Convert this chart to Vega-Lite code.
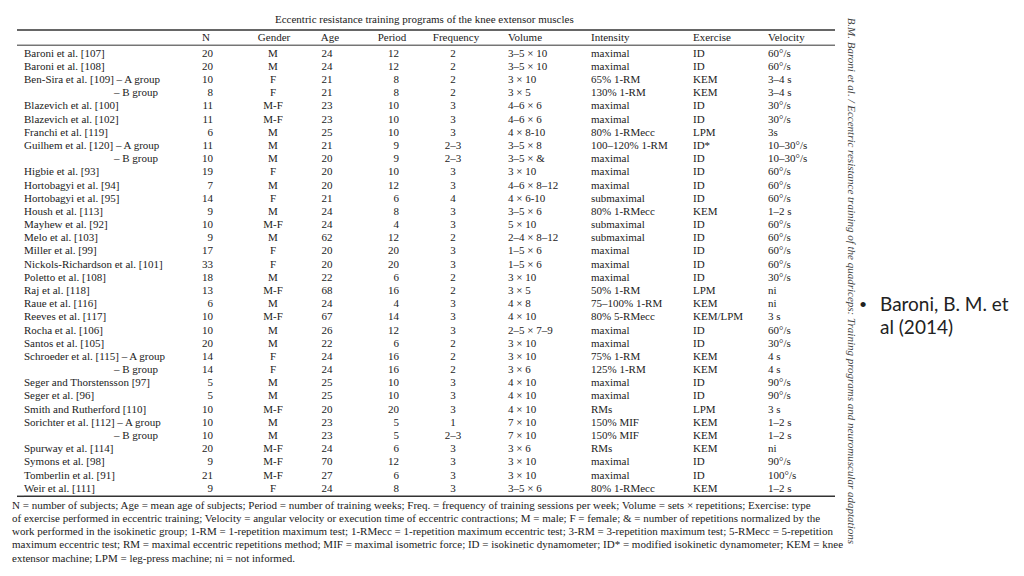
{
  "$schema": "https://vega.github.io/schema/vega-lite/v6.json",
  "background": "white",
  "padding": {"left": 12, "top": 13, "right": 0, "bottom": 0},
  "config": {
    "view": {"stroke": null},
    "text": {"font": "Liberation Serif", "fontSize": 11, "color": "#222", "baseline": "middle"}
  },
  "title": {"text": "Eccentric resistance training programs of the knee extensor muscles", "font": "Liberation Serif", "fontSize": 11, "fontWeight": "normal", "color": "#222", "anchor": "start", "frame": "group", "dx": 258, "offset": -7},
  "datasets": {
    "rows": [
      {"row": 1, "study": "Baroni et al. [107]", "n": 20, "gender": "M", "age": 24, "period": 12, "freq": "2", "volume": "3–5 × 10", "intensity": "maximal", "exercise": "ID", "velocity": "60°/s"},
      {"row": 2, "study": "Baroni et al. [108]", "n": 20, "gender": "M", "age": 24, "period": 12, "freq": "2", "volume": "3–5 × 10", "intensity": "maximal", "exercise": "ID", "velocity": "60°/s"},
      {"row": 3, "study": "Ben-Sira et al. [109] – A group", "n": 10, "gender": "F", "age": 21, "period": 8, "freq": "2", "volume": "3 × 10", "intensity": "65% 1-RM", "exercise": "KEM", "velocity": "3–4 s"},
      {"row": 4, "study": "– B group", "sub": true, "n": 8, "gender": "F", "age": 21, "period": 8, "freq": "2", "volume": "3 × 5", "intensity": "130% 1-RM", "exercise": "KEM", "velocity": "3–4 s"},
      {"row": 5, "study": "Blazevich et al. [100]", "n": 11, "gender": "M-F", "age": 23, "period": 10, "freq": "3", "volume": "4–6 × 6", "intensity": "maximal", "exercise": "ID", "velocity": "30°/s"},
      {"row": 6, "study": "Blazevich et al. [102]", "n": 11, "gender": "M-F", "age": 23, "period": 10, "freq": "3", "volume": "4–6 × 6", "intensity": "maximal", "exercise": "ID", "velocity": "30°/s"},
      {"row": 7, "study": "Franchi et al. [119]", "n": 6, "gender": "M", "age": 25, "period": 10, "freq": "3", "volume": "4 × 8-10", "intensity": "80% 1-RMecc", "exercise": "LPM", "velocity": "3s"},
      {"row": 8, "study": "Guilhem et al. [120] – A group", "n": 11, "gender": "M", "age": 21, "period": 9, "freq": "2–3", "volume": "3–5 × 8", "intensity": "100–120% 1-RM", "exercise": "ID*", "velocity": "10–30°/s"},
      {"row": 9, "study": "– B group", "sub": true, "n": 10, "gender": "M", "age": 20, "period": 9, "freq": "2–3", "volume": "3–5 × &", "intensity": "maximal", "exercise": "ID", "velocity": "10–30°/s"},
      {"row": 10, "study": "Higbie et al. [93]", "n": 19, "gender": "F", "age": 20, "period": 10, "freq": "3", "volume": "3 × 10", "intensity": "maximal", "exercise": "ID", "velocity": "60°/s"},
      {"row": 11, "study": "Hortobagyi et al. [94]", "n": 7, "gender": "M", "age": 20, "period": 12, "freq": "3", "volume": "4–6 × 8–12", "intensity": "maximal", "exercise": "ID", "velocity": "60°/s"},
      {"row": 12, "study": "Hortobagyi et al. [95]", "n": 14, "gender": "F", "age": 21, "period": 6, "freq": "4", "volume": "4 × 6-10", "intensity": "submaximal", "exercise": "ID", "velocity": "60°/s"},
      {"row": 13, "study": "Housh et al. [113]", "n": 9, "gender": "M", "age": 24, "period": 8, "freq": "3", "volume": "3–5 × 6", "intensity": "80% 1-RMecc", "exercise": "KEM", "velocity": "1–2 s"},
      {"row": 14, "study": "Mayhew et al. [92]", "n": 10, "gender": "M-F", "age": 24, "period": 4, "freq": "3", "volume": "5 × 10", "intensity": "submaximal", "exercise": "ID", "velocity": "60°/s"},
      {"row": 15, "study": "Melo et al. [103]", "n": 9, "gender": "M", "age": 62, "period": 12, "freq": "2", "volume": "2–4 × 8–12", "intensity": "submaximal", "exercise": "ID", "velocity": "60°/s"},
      {"row": 16, "study": "Miller et al. [99]", "n": 17, "gender": "F", "age": 20, "period": 20, "freq": "3", "volume": "1–5 × 6", "intensity": "maximal", "exercise": "ID", "velocity": "60°/s"},
      {"row": 17, "study": "Nickols-Richardson et al. [101]", "n": 33, "gender": "F", "age": 20, "period": 20, "freq": "3", "volume": "1–5 × 6", "intensity": "maximal", "exercise": "ID", "velocity": "60°/s"},
      {"row": 18, "study": "Poletto et al. [108]", "n": 18, "gender": "M", "age": 22, "period": 6, "freq": "2", "volume": "3 × 10", "intensity": "maximal", "exercise": "ID", "velocity": "30°/s"},
      {"row": 19, "study": "Raj et al. [118]", "n": 13, "gender": "M-F", "age": 68, "period": 16, "freq": "2", "volume": "3 × 5", "intensity": "50% 1-RM", "exercise": "LPM", "velocity": "ni"},
      {"row": 20, "study": "Raue et al. [116]", "n": 6, "gender": "M", "age": 24, "period": 4, "freq": "3", "volume": "4 × 8", "intensity": "75–100% 1-RM", "exercise": "KEM", "velocity": "ni"},
      {"row": 21, "study": "Reeves et al. [117]", "n": 10, "gender": "M-F", "age": 67, "period": 14, "freq": "3", "volume": "4 × 10", "intensity": "80% 5-RMecc", "exercise": "KEM/LPM", "velocity": "3 s"},
      {"row": 22, "study": "Rocha et al. [106]", "n": 10, "gender": "M", "age": 26, "period": 12, "freq": "3", "volume": "2–5 × 7–9", "intensity": "maximal", "exercise": "ID", "velocity": "60°/s"},
      {"row": 23, "study": "Santos et al. [105]", "n": 20, "gender": "M", "age": 22, "period": 6, "freq": "2", "volume": "3 × 10", "intensity": "maximal", "exercise": "ID", "velocity": "30°/s"},
      {"row": 24, "study": "Schroeder et al. [115] – A group", "n": 14, "gender": "F", "age": 24, "period": 16, "freq": "2", "volume": "3 × 10", "intensity": "75% 1-RM", "exercise": "KEM", "velocity": "4 s"},
      {"row": 25, "study": "– B group", "sub": true, "n": 14, "gender": "F", "age": 24, "period": 16, "freq": "2", "volume": "3 × 6", "intensity": "125% 1-RM", "exercise": "KEM", "velocity": "4 s"},
      {"row": 26, "study": "Seger and Thorstensson [97]", "n": 5, "gender": "M", "age": 25, "period": 10, "freq": "3", "volume": "4 × 10", "intensity": "maximal", "exercise": "ID", "velocity": "90°/s"},
      {"row": 27, "study": "Seger et al. [96]", "n": 5, "gender": "M", "age": 25, "period": 10, "freq": "3", "volume": "4 × 10", "intensity": "maximal", "exercise": "ID", "velocity": "90°/s"},
      {"row": 28, "study": "Smith and Rutherford [110]", "n": 10, "gender": "M-F", "age": 20, "period": 20, "freq": "3", "volume": "4 × 10", "intensity": "RMs", "exercise": "LPM", "velocity": "3 s"},
      {"row": 29, "study": "Sorichter et al. [112] – A group", "n": 10, "gender": "M", "age": 23, "period": 5, "freq": "1", "volume": "7 × 10", "intensity": "150% MIF", "exercise": "KEM", "velocity": "1–2 s"},
      {"row": 30, "study": "– B group", "sub": true, "n": 10, "gender": "M", "age": 23, "period": 5, "freq": "2–3", "volume": "7 × 10", "intensity": "150% MIF", "exercise": "KEM", "velocity": "1–2 s"},
      {"row": 31, "study": "Spurway et al. [114]", "n": 20, "gender": "M-F", "age": 24, "period": 6, "freq": "3", "volume": "3 × 6", "intensity": "RMs", "exercise": "KEM", "velocity": "ni"},
      {"row": 32, "study": "Symons et al. [98]", "n": 9, "gender": "M-F", "age": 70, "period": 12, "freq": "3", "volume": "3 × 10", "intensity": "maximal", "exercise": "ID", "velocity": "90°/s"},
      {"row": 33, "study": "Tomberlin et al. [91]", "n": 21, "gender": "M-F", "age": 27, "period": 6, "freq": "3", "volume": "3 × 10", "intensity": "maximal", "exercise": "ID", "velocity": "100°/s"},
      {"row": 34, "study": "Weir et al. [111]", "n": 9, "gender": "F", "age": 24, "period": 8, "freq": "3", "volume": "3–5 × 6", "intensity": "80% 1-RMecc", "exercise": "KEM", "velocity": "1–2 s"}
    ],
    "notes": [
      {"line": "n1", "text": "N = number of subjects; Age = mean age of subjects; Period = number of training weeks; Freq. = frequency of training sessions per week; Volume = sets × repetitions; Exercise: type"},
      {"line": "n2", "text": "of exercise performed in eccentric training; Velocity = angular velocity or execution time of eccentric contractions; M = male; F = female; & = number of repetitions normalized by the"},
      {"line": "n3", "text": "work performed in the isokinetic group; 1-RM = 1-repetition maximum test; 1-RMecc = 1-repetition maximum eccentric test; 3-RM = 3-repetition maximum test; 5-RMecc = 5-repetition"},
      {"line": "n4", "text": "maximum eccentric test; RM = maximal eccentric repetitions method; MIF = maximal isometric force; ID = isokinetic dynamometer; ID* = modified isokinetic dynamometer; KEM = knee"},
      {"line": "n5", "text": "extensor machine; LPM = leg-press machine; ni = not informed."}
    ],
    "side": [
      {"text": "B.M. Baroni et al. / Eccentric resistance training of the quadriceps: Training programs and neuromuscular adaptations"}
    ],
    "bullet": [
      {"line": 1, "text": "Baroni, B. M. et"},
      {"line": 2, "text": "al (2014)"}
    ]
  },
  "data": {"name": "rows"},
  "spacing": 0,
  "bounds": "flush",
  "hconcat": [
    {
      "width": 7, "height": 461.3,
      "layer": [
        {"data": {"values": [{}]}, "mark": {"type": "rule", "color": "#333", "strokeWidth": 1.5, "yOffset": -4}, "encoding": {"y": {"datum": 0, "type": "ordinal", "bandPosition": 0, "axis": null, "scale": {"type": "band", "domain": [0,1,2,3,4,5,6,7,8,9,10,11,12,13,14,15,16,17,18,19,20,21,22,23,24,25,26,27,28,29,30,31,32,33,34], "paddingInner": 0, "paddingOuter": 0}}}},
        {"data": {"values": [{}]}, "mark": {"type": "rule", "color": "#333", "strokeWidth": 1, "yOffset": -2}, "encoding": {"y": {"datum": 0, "type": "ordinal", "bandPosition": 1}}},
        {"data": {"values": [{}]}, "mark": {"type": "rule", "color": "#333", "strokeWidth": 1.5, "yOffset": 1}, "encoding": {"y": {"datum": 34, "type": "ordinal", "bandPosition": 1}}}
      ]
    },
    {
      "width": 189, "height": 527.2,
      "layer": [
        {"transform": [{"filter": "!datum.sub"}], "mark": {"type": "text", "align": "left"}, "encoding": {"y": {"field": "row", "type": "ordinal", "axis": null, "scale": {"type": "band", "domain": [0,1,2,3,4,5,6,7,8,9,10,11,12,13,14,15,16,17,18,19,20,21,22,23,24,25,26,27,28,29,30,31,32,33,34,"n1","n2","n3","n4","n5"], "paddingInner": 0, "paddingOuter": 0}}, "x": {"value": 0}, "text": {"field": "study", "type": "nominal"}}},
        {"transform": [{"filter": "datum.sub"}], "mark": {"type": "text", "align": "right"}, "encoding": {"y": {"field": "row", "type": "ordinal"}, "x": {"value": 134}, "text": {"field": "study", "type": "nominal"}}},
        {"data": {"name": "notes"}, "mark": {"type": "text", "align": "left", "dy": 4}, "encoding": {"y": {"field": "line", "type": "ordinal"}, "x": {"value": -12}, "text": {"field": "text", "type": "nominal"}}},
        {"data": {"values": [{}]}, "mark": {"type": "rule", "color": "#333", "strokeWidth": 1.5, "yOffset": -4}, "encoding": {"y": {"datum": 0, "type": "ordinal", "bandPosition": 0}}},
        {"data": {"values": [{}]}, "mark": {"type": "rule", "color": "#333", "strokeWidth": 1, "yOffset": -2}, "encoding": {"y": {"datum": 0, "type": "ordinal", "bandPosition": 1}}},
        {"data": {"values": [{}]}, "mark": {"type": "rule", "color": "#333", "strokeWidth": 1.5, "yOffset": 1}, "encoding": {"y": {"datum": 34, "type": "ordinal", "bandPosition": 1}}}
      ]
    },
    {
      "width": 60, "height": 461.3,
      "layer": [
        {"mark": {"type": "text", "align": "right"}, "encoding": {"y": {"field": "row", "type": "ordinal", "axis": null, "scale": {"type": "band", "domain": [0,1,2,3,4,5,6,7,8,9,10,11,12,13,14,15,16,17,18,19,20,21,22,23,24,25,26,27,28,29,30,31,32,33,34], "paddingInner": 0, "paddingOuter": 0}}, "x": {"value": 0}, "text": {"field": "n", "type": "nominal"}}},
        {"data": {"values": [{"row": 0, "h": "N"}]}, "mark": {"type": "text", "align": "right", "dx": -3, "dy": -2.5}, "encoding": {"y": {"field": "row", "type": "ordinal"}, "x": {"value": 0}, "text": {"field": "h", "type": "nominal"}}},
        {"data": {"values": [{}]}, "mark": {"type": "rule", "color": "#333", "strokeWidth": 1.5, "yOffset": -4}, "encoding": {"y": {"datum": 0, "type": "ordinal", "bandPosition": 0}}},
        {"data": {"values": [{}]}, "mark": {"type": "rule", "color": "#333", "strokeWidth": 1, "yOffset": -2}, "encoding": {"y": {"datum": 0, "type": "ordinal", "bandPosition": 1}}},
        {"data": {"values": [{}]}, "mark": {"type": "rule", "color": "#333", "strokeWidth": 1.5, "yOffset": 1}, "encoding": {"y": {"datum": 34, "type": "ordinal", "bandPosition": 1}}}
      ]
    },
    {
      "width": 54, "height": 461.3,
      "layer": [
        {"mark": {"type": "text", "align": "center"}, "encoding": {"y": {"field": "row", "type": "ordinal", "axis": null, "scale": {"type": "band", "domain": [0,1,2,3,4,5,6,7,8,9,10,11,12,13,14,15,16,17,18,19,20,21,22,23,24,25,26,27,28,29,30,31,32,33,34], "paddingInner": 0, "paddingOuter": 0}}, "x": {"value": 0}, "text": {"field": "gender", "type": "nominal"}}},
        {"data": {"values": [{"row": 0, "h": "Gender"}]}, "mark": {"type": "text", "align": "center", "dx": 1, "dy": -2.5}, "encoding": {"y": {"field": "row", "type": "ordinal"}, "x": {"value": 0}, "text": {"field": "h", "type": "nominal"}}},
        {"data": {"values": [{}]}, "mark": {"type": "rule", "color": "#333", "strokeWidth": 1.5, "yOffset": -4}, "encoding": {"y": {"datum": 0, "type": "ordinal", "bandPosition": 0}}},
        {"data": {"values": [{}]}, "mark": {"type": "rule", "color": "#333", "strokeWidth": 1, "yOffset": -2}, "encoding": {"y": {"datum": 0, "type": "ordinal", "bandPosition": 1}}},
        {"data": {"values": [{}]}, "mark": {"type": "rule", "color": "#333", "strokeWidth": 1.5, "yOffset": 1}, "encoding": {"y": {"datum": 34, "type": "ordinal", "bandPosition": 1}}}
      ]
    },
    {
      "width": 72, "height": 461.3,
      "layer": [
        {"mark": {"type": "text", "align": "center"}, "encoding": {"y": {"field": "row", "type": "ordinal", "axis": null, "scale": {"type": "band", "domain": [0,1,2,3,4,5,6,7,8,9,10,11,12,13,14,15,16,17,18,19,20,21,22,23,24,25,26,27,28,29,30,31,32,33,34], "paddingInner": 0, "paddingOuter": 0}}, "x": {"value": 0}, "text": {"field": "age", "type": "nominal"}}},
        {"data": {"values": [{"row": 0, "h": "Age"}]}, "mark": {"type": "text", "align": "center", "dx": 3, "dy": -2.5}, "encoding": {"y": {"field": "row", "type": "ordinal"}, "x": {"value": 0}, "text": {"field": "h", "type": "nominal"}}},
        {"data": {"values": [{}]}, "mark": {"type": "rule", "color": "#333", "strokeWidth": 1.5, "yOffset": -4}, "encoding": {"y": {"datum": 0, "type": "ordinal", "bandPosition": 0}}},
        {"data": {"values": [{}]}, "mark": {"type": "rule", "color": "#333", "strokeWidth": 1, "yOffset": -2}, "encoding": {"y": {"datum": 0, "type": "ordinal", "bandPosition": 1}}},
        {"data": {"values": [{}]}, "mark": {"type": "rule", "color": "#333", "strokeWidth": 1.5, "yOffset": 1}, "encoding": {"y": {"datum": 34, "type": "ordinal", "bandPosition": 1}}}
      ]
    },
    {
      "width": 54, "height": 461.3,
      "layer": [
        {"mark": {"type": "text", "align": "right"}, "encoding": {"y": {"field": "row", "type": "ordinal", "axis": null, "scale": {"type": "band", "domain": [0,1,2,3,4,5,6,7,8,9,10,11,12,13,14,15,16,17,18,19,20,21,22,23,24,25,26,27,28,29,30,31,32,33,34], "paddingInner": 0, "paddingOuter": 0}}, "x": {"value": 0}, "text": {"field": "period", "type": "nominal"}}},
        {"data": {"values": [{"row": 0, "h": "Period"}]}, "mark": {"type": "text", "align": "center", "dx": -7, "dy": -2.5}, "encoding": {"y": {"field": "row", "type": "ordinal"}, "x": {"value": 0}, "text": {"field": "h", "type": "nominal"}}},
        {"data": {"values": [{}]}, "mark": {"type": "rule", "color": "#333", "strokeWidth": 1.5, "yOffset": -4}, "encoding": {"y": {"datum": 0, "type": "ordinal", "bandPosition": 0}}},
        {"data": {"values": [{}]}, "mark": {"type": "rule", "color": "#333", "strokeWidth": 1, "yOffset": -2}, "encoding": {"y": {"datum": 0, "type": "ordinal", "bandPosition": 1}}},
        {"data": {"values": [{}]}, "mark": {"type": "rule", "color": "#333", "strokeWidth": 1.5, "yOffset": 1}, "encoding": {"y": {"datum": 34, "type": "ordinal", "bandPosition": 1}}}
      ]
    },
    {
      "width": 55, "height": 461.3,
      "layer": [
        {"mark": {"type": "text", "align": "center"}, "encoding": {"y": {"field": "row", "type": "ordinal", "axis": null, "scale": {"type": "band", "domain": [0,1,2,3,4,5,6,7,8,9,10,11,12,13,14,15,16,17,18,19,20,21,22,23,24,25,26,27,28,29,30,31,32,33,34], "paddingInner": 0, "paddingOuter": 0}}, "x": {"value": 0}, "text": {"field": "freq", "type": "nominal"}}},
        {"data": {"values": [{"row": 0, "h": "Frequency"}]}, "mark": {"type": "text", "align": "center", "dx": 3, "dy": -2.5}, "encoding": {"y": {"field": "row", "type": "ordinal"}, "x": {"value": 0}, "text": {"field": "h", "type": "nominal"}}},
        {"data": {"values": [{}]}, "mark": {"type": "rule", "color": "#333", "strokeWidth": 1.5, "yOffset": -4}, "encoding": {"y": {"datum": 0, "type": "ordinal", "bandPosition": 0}}},
        {"data": {"values": [{}]}, "mark": {"type": "rule", "color": "#333", "strokeWidth": 1, "yOffset": -2}, "encoding": {"y": {"datum": 0, "type": "ordinal", "bandPosition": 1}}},
        {"data": {"values": [{}]}, "mark": {"type": "rule", "color": "#333", "strokeWidth": 1.5, "yOffset": 1}, "encoding": {"y": {"datum": 34, "type": "ordinal", "bandPosition": 1}}}
      ]
    },
    {
      "width": 83, "height": 461.3,
      "layer": [
        {"mark": {"type": "text", "align": "left"}, "encoding": {"y": {"field": "row", "type": "ordinal", "axis": null, "scale": {"type": "band", "domain": [0,1,2,3,4,5,6,7,8,9,10,11,12,13,14,15,16,17,18,19,20,21,22,23,24,25,26,27,28,29,30,31,32,33,34], "paddingInner": 0, "paddingOuter": 0}}, "x": {"value": 0}, "text": {"field": "volume", "type": "nominal"}}},
        {"data": {"values": [{"row": 0, "h": "Volume"}]}, "mark": {"type": "text", "align": "left", "dy": -2.5}, "encoding": {"y": {"field": "row", "type": "ordinal"}, "x": {"value": 0}, "text": {"field": "h", "type": "nominal"}}},
        {"data": {"values": [{}]}, "mark": {"type": "rule", "color": "#333", "strokeWidth": 1.5, "yOffset": -4}, "encoding": {"y": {"datum": 0, "type": "ordinal", "bandPosition": 0}}},
        {"data": {"values": [{}]}, "mark": {"type": "rule", "color": "#333", "strokeWidth": 1, "yOffset": -2}, "encoding": {"y": {"datum": 0, "type": "ordinal", "bandPosition": 1}}},
        {"data": {"values": [{}]}, "mark": {"type": "rule", "color": "#333", "strokeWidth": 1.5, "yOffset": 1}, "encoding": {"y": {"datum": 34, "type": "ordinal", "bandPosition": 1}}}
      ]
    },
    {
      "width": 102, "height": 461.3,
      "layer": [
        {"mark": {"type": "text", "align": "left"}, "encoding": {"y": {"field": "row", "type": "ordinal", "axis": null, "scale": {"type": "band", "domain": [0,1,2,3,4,5,6,7,8,9,10,11,12,13,14,15,16,17,18,19,20,21,22,23,24,25,26,27,28,29,30,31,32,33,34], "paddingInner": 0, "paddingOuter": 0}}, "x": {"value": 0}, "text": {"field": "intensity", "type": "nominal"}}},
        {"data": {"values": [{"row": 0, "h": "Intensity"}]}, "mark": {"type": "text", "align": "left", "dy": -2.5}, "encoding": {"y": {"field": "row", "type": "ordinal"}, "x": {"value": 0}, "text": {"field": "h", "type": "nominal"}}},
        {"data": {"values": [{}]}, "mark": {"type": "rule", "color": "#333", "strokeWidth": 1.5, "yOffset": -4}, "encoding": {"y": {"datum": 0, "type": "ordinal", "bandPosition": 0}}},
        {"data": {"values": [{}]}, "mark": {"type": "rule", "color": "#333", "strokeWidth": 1, "yOffset": -2}, "encoding": {"y": {"datum": 0, "type": "ordinal", "bandPosition": 1}}},
        {"data": {"values": [{}]}, "mark": {"type": "rule", "color": "#333", "strokeWidth": 1.5, "yOffset": 1}, "encoding": {"y": {"datum": 34, "type": "ordinal", "bandPosition": 1}}}
      ]
    },
    {
      "width": 75, "height": 461.3,
      "layer": [
        {"mark": {"type": "text", "align": "left"}, "encoding": {"y": {"field": "row", "type": "ordinal", "axis": null, "scale": {"type": "band", "domain": [0,1,2,3,4,5,6,7,8,9,10,11,12,13,14,15,16,17,18,19,20,21,22,23,24,25,26,27,28,29,30,31,32,33,34], "paddingInner": 0, "paddingOuter": 0}}, "x": {"value": 0}, "text": {"field": "exercise", "type": "nominal"}}},
        {"data": {"values": [{"row": 0, "h": "Exercise"}]}, "mark": {"type": "text", "align": "left", "dy": -2.5}, "encoding": {"y": {"field": "row", "type": "ordinal"}, "x": {"value": 0}, "text": {"field": "h", "type": "nominal"}}},
        {"data": {"values": [{}]}, "mark": {"type": "rule", "color": "#333", "strokeWidth": 1.5, "yOffset": -4}, "encoding": {"y": {"datum": 0, "type": "ordinal", "bandPosition": 0}}},
        {"data": {"values": [{}]}, "mark": {"type": "rule", "color": "#333", "strokeWidth": 1, "yOffset": -2}, "encoding": {"y": {"datum": 0, "type": "ordinal", "bandPosition": 1}}},
        {"data": {"values": [{}]}, "mark": {"type": "rule", "color": "#333", "strokeWidth": 1.5, "yOffset": 1}, "encoding": {"y": {"datum": 34, "type": "ordinal", "bandPosition": 1}}}
      ]
    },
    {
      "width": 67, "height": 461.3,
      "layer": [
        {"mark": {"type": "text", "align": "left"}, "encoding": {"y": {"field": "row", "type": "ordinal", "axis": null, "scale": {"type": "band", "domain": [0,1,2,3,4,5,6,7,8,9,10,11,12,13,14,15,16,17,18,19,20,21,22,23,24,25,26,27,28,29,30,31,32,33,34], "paddingInner": 0, "paddingOuter": 0}}, "x": {"value": 0}, "text": {"field": "velocity", "type": "nominal"}}},
        {"data": {"values": [{"row": 0, "h": "Velocity"}]}, "mark": {"type": "text", "align": "left", "dy": -2.5}, "encoding": {"y": {"field": "row", "type": "ordinal"}, "x": {"value": 0}, "text": {"field": "h", "type": "nominal"}}},
        {"data": {"values": [{}]}, "mark": {"type": "rule", "color": "#333", "strokeWidth": 1.5, "yOffset": -4}, "encoding": {"y": {"datum": 0, "type": "ordinal", "bandPosition": 0}}},
        {"data": {"values": [{}]}, "mark": {"type": "rule", "color": "#333", "strokeWidth": 1, "yOffset": -2}, "encoding": {"y": {"datum": 0, "type": "ordinal", "bandPosition": 1}}},
        {"data": {"values": [{}]}, "mark": {"type": "rule", "color": "#333", "strokeWidth": 1.5, "yOffset": 1}, "encoding": {"y": {"datum": 34, "type": "ordinal", "bandPosition": 1}}}
      ]
    },
    {
      "width": 32, "height": 493.6,
      "data": {"name": "side"},
      "mark": {"type": "text", "angle": 90, "fontStyle": "italic", "fontSize": 11, "color": "#444", "align": "center", "baseline": "middle"},
      "encoding": {"text": {"field": "text", "type": "nominal"}}
    },
    {
      "width": 150, "height": 493.6,
      "layer": [
        {
          "data": {"values": [{"line": 1, "b": "•"}]},
          "mark": {"type": "text", "align": "center", "font": "Liberation Sans", "fontSize": 19, "color": "#222"},
          "encoding": {
            "y": {"field": "line", "type": "quantitative", "axis": null, "scale": {"domain": [-10.77, 10.69], "reverse": true, "zero": false, "nice": false}},
            "x": {"value": -4},
            "text": {"field": "b", "type": "nominal"}
          }
        },
        {
          "data": {"name": "bullet"},
          "mark": {"type": "text", "align": "left", "font": "Lato", "fontSize": 19, "color": "#222"},
          "encoding": {
            "y": {"field": "line", "type": "quantitative"},
            "x": {"value": 13},
            "text": {"field": "text", "type": "nominal"}
          }
        }
      ]
    }
  ]
}
